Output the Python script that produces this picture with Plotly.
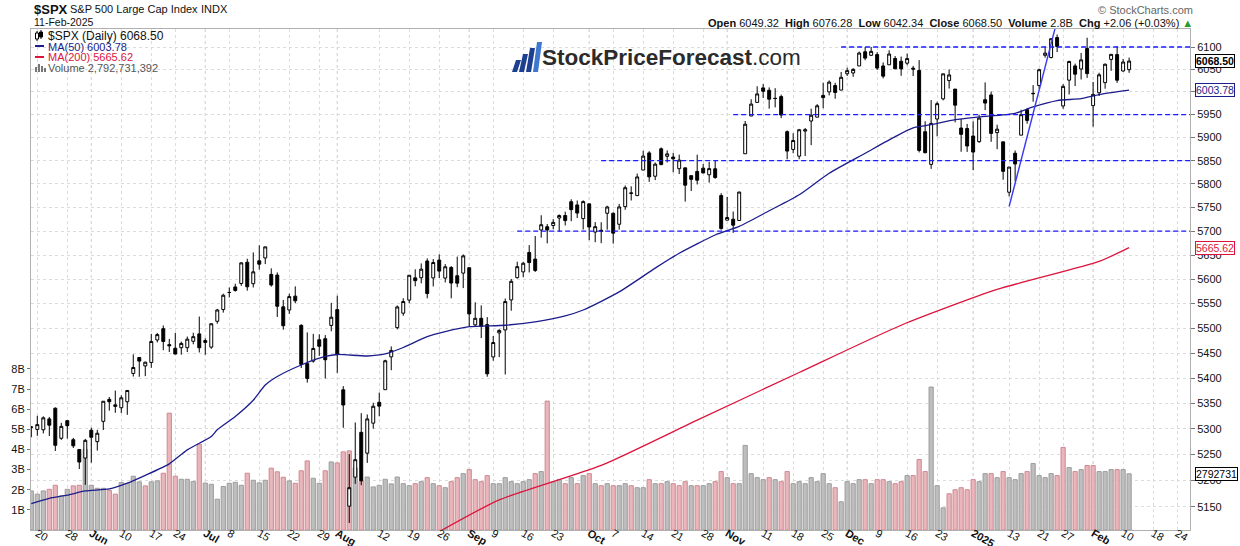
import numpy as np
import pandas as pd
import plotly.graph_objects as go

# ------------------------------------------------------------------ data
holidays = ["2024-05-27", "2024-06-19", "2024-07-04", "2024-09-02", "2024-11-28",
            "2024-12-25", "2025-01-01", "2025-01-09", "2025-01-20", "2025-02-17"]
axis_dates = [d.strftime("%Y-%m-%d") for d in pd.bdate_range("2024-05-17", "2025-02-27")
              if d.strftime("%Y-%m-%d") not in holidays]

opens = [5303.1, 5298.7, 5298.0, 5319.3, 5340.3, 5281.5, 5315.9, 5278.7, 5259.8, 5243.2,
         5297.2, 5275.0, 5314.5, 5357.8, 5343.8, 5341.2, 5353.0, 5409.1, 5441.0, 5424.1,
         5431.1, 5476.2, 5499.0, 5466.8, 5459.6, 5460.7, 5460.7, 5473.6, 5488.5, 5471.1,
         5461.8, 5514.0, 5537.9, 5572.8, 5584.2, 5591.3, 5635.2, 5590.8, 5638.2, 5644.1,
         5610.1, 5608.6, 5543.4, 5537.0, 5565.3, 5505.8, 5428.7, 5433.7, 5476.6, 5478.7,
         5505.6, 5537.8, 5376.6, 5151.1, 5206.4, 5293.1, 5252.6, 5311.0, 5351.9, 5376.9,
         5442.2, 5501.1, 5530.5, 5557.2, 5602.9, 5603.1, 5637.8, 5602.9, 5639.7, 5602.5,
         5624.5, 5607.3, 5612.7, 5623.9, 5506.7, 5520.1, 5507.3, 5442.1, 5490.5, 5496.4,
         5557.5, 5603.3, 5615.2, 5655.5, 5641.7, 5702.6, 5709.4, 5711.9, 5727.7, 5733.0,
         5762.2, 5755.4, 5726.5, 5757.7, 5698.2, 5702.0, 5737.8, 5737.8, 5714.6, 5751.8,
         5781.0, 5775.1, 5829.8, 5866.7, 5816.6, 5875.6, 5859.4, 5857.8, 5832.7, 5834.5,
         5817.8, 5826.8, 5833.9, 5819.7, 5832.6, 5775.3, 5723.2, 5725.2, 5722.4, 5864.9,
         5947.0, 5976.8, 6008.9, 6003.6, 5985.8, 5989.6, 5912.8, 5874.2, 5859.7, 5914.0,
         5936.0, 5944.4, 5992.3, 6000.0, 6014.1, 6004.0, 6040.1, 6042.0, 6057.6, 6089.3,
         6081.4, 6083.0, 6057.6, 6060.2, 6074.3, 6068.2, 6063.8, 6052.6, 6047.6, 5912.7,
         5842.0, 5940.3, 5984.7, 6025.0, 6006.2, 5920.7, 5919.7, 5903.3, 5891.1, 5982.8,
         5993.3, 5910.7, 5890.7, 5782.4, 5866.0, 5905.2, 5961.0, 5995.9, 6014.1, 6081.4,
         6076.3, 6121.4, 5969.0, 6026.0, 6057.7, 6050.8, 6096.8, 5969.7, 5998.1, 6020.5,
         6072.2, 6083.1, 6046.4, 6049.32]
highs = [5305.4, 5325.5, 5324.3, 5323.2, 5341.9, 5311.6, 5315.9, 5282.3, 5260.2, 5280.3,
         5302.1, 5297.9, 5354.2, 5362.4, 5375.1, 5365.8, 5375.9, 5447.3, 5441.9, 5432.4,
         5488.5, 5490.4, 5505.5, 5478.3, 5490.7, 5472.9, 5483.1, 5490.8, 5523.6, 5479.6,
         5509.7, 5539.3, 5570.3, 5583.1, 5590.8, 5635.4, 5642.5, 5655.6, 5670.4, 5667.3,
         5622.5, 5614.1, 5557.5, 5570.4, 5585.3, 5508.0, 5491.6, 5488.5, 5487.7, 5486.0,
         5551.5, 5566.2, 5383.9, 5250.9, 5312.3, 5330.6, 5328.0, 5351.1, 5371.2, 5436.5,
         5463.2, 5546.2, 5561.0, 5608.3, 5620.5, 5632.7, 5643.2, 5641.8, 5651.6, 5631.2,
         5627.0, 5646.9, 5651.4, 5623.9, 5552.7, 5546.3, 5522.5, 5484.2, 5497.9, 5560.4,
         5600.7, 5636.3, 5636.3, 5670.8, 5689.8, 5733.6, 5715.1, 5725.4, 5735.3, 5741.0,
         5767.4, 5764.8, 5765.1, 5757.7, 5719.1, 5718.8, 5753.7, 5739.4, 5757.6, 5796.8,
         5795.0, 5822.1, 5871.4, 5870.4, 5846.0, 5878.5, 5872.2, 5866.9, 5863.0, 5834.9,
         5817.8, 5862.8, 5842.9, 5847.2, 5850.9, 5780.4, 5772.5, 5741.4, 5783.4, 5936.1,
         5983.8, 6012.5, 6017.3, 6009.9, 6008.2, 5993.9, 5915.4, 5909.4, 5918.7, 5920.7,
         5963.1, 5972.9, 6020.4, 6025.4, 6020.2, 6044.2, 6053.6, 6052.7, 6089.8, 6100.0,
         6099.9, 6088.5, 6065.4, 6092.6, 6079.7, 6078.6, 6085.2, 6057.7, 6070.7, 5935.5,
         5982.1, 5978.3, 6040.1, 6049.8, 6006.2, 5940.8, 5929.7, 5935.1, 5949.3, 6021.0,
         6000.7, 5927.9, 5890.7, 5836.2, 5871.9, 5960.6, 5964.7, 6015.0, 6051.5, 6100.8,
         6118.7, 6128.2, 6017.2, 6069.1, 6062.8, 6086.6, 6120.9, 6022.1, 6042.5, 6062.9,
         6084.0, 6101.3, 6073.4, 6076.28]
lows = [5283.6, 5286.3, 5291.0, 5286.0, 5256.9, 5278.4, 5280.9, 5262.7, 5222.1, 5191.7,
        5234.3, 5257.6, 5297.6, 5335.4, 5331.3, 5331.0, 5327.3, 5403.0, 5402.5, 5403.8,
        5420.4, 5471.3, 5455.6, 5452.0, 5447.6, 5446.6, 5451.9, 5467.5, 5451.1, 5446.5,
        5458.4, 5509.0, 5531.6, 5562.5, 5574.6, 5586.4, 5576.5, 5583.1, 5619.9, 5631.4,
        5584.8, 5522.8, 5497.0, 5529.0, 5550.9, 5419.9, 5390.9, 5430.7, 5444.4, 5399.1,
        5493.8, 5410.4, 5302.0, 5119.3, 5193.6, 5191.0, 5233.9, 5300.2, 5324.4, 5376.9,
        5415.5, 5497.6, 5525.2, 5550.7, 5585.5, 5591.6, 5560.9, 5585.2, 5602.3, 5593.5,
        5560.9, 5583.7, 5581.8, 5504.1, 5503.7, 5480.0, 5402.6, 5434.5, 5441.7, 5407.0,
        5535.5, 5601.6, 5604.5, 5614.1, 5615.1, 5686.4, 5674.5, 5704.2, 5698.9, 5712.1,
        5721.0, 5727.7, 5703.5, 5681.3, 5676.9, 5674.9, 5703.2, 5674.0, 5703.2, 5745.0,
        5764.8, 5775.1, 5829.6, 5804.5, 5808.3, 5840.3, 5846.1, 5824.8, 5821.2, 5762.4,
        5784.9, 5799.0, 5823.1, 5802.9, 5811.3, 5703.3, 5723.2, 5696.5, 5722.1, 5864.9,
        5947.0, 5976.8, 5986.7, 5963.1, 5965.9, 5942.3, 5853.0, 5865.9, 5853.0, 5860.0,
        5883.5, 5944.4, 5963.9, 5992.3, 5984.9, 6004.0, 6035.3, 6033.4, 6057.6, 6070.4,
        6079.98, 6048.6, 6029.9, 6060.2, 6051.2, 6035.8, 6059.1, 6035.2, 5867.8, 5866.1,
        5832.3, 5902.6, 5981.4, 6007.4, 5933.0, 5869.2, 5868.9, 5829.5, 5888.6, 5960.0,
        5890.7, 5874.8, 5809.0, 5773.3, 5805.8, 5905.2, 5930.1, 5978.4, 6006.9, 6076.1,
        6074.7, 6088.7, 5962.9, 5994.3, 6013.0, 6027.5, 6030.9, 5923.9, 5990.9, 6007.1,
        6046.8, 6020.0, 6044.8, 6042.34]
closes = [5303.27, 5308.13, 5321.41, 5307.01, 5267.84, 5304.72, 5306.04, 5266.95, 5235.48, 5277.51,
          5283.40, 5291.34, 5354.03, 5352.96, 5346.99, 5360.79, 5375.32, 5421.03, 5433.74, 5431.60,
          5473.23, 5487.03, 5473.17, 5464.62, 5447.87, 5469.30, 5477.90, 5482.87, 5460.48, 5475.09,
          5509.01, 5537.02, 5567.19, 5572.85, 5576.98, 5633.91, 5584.54, 5615.35, 5631.22, 5667.20,
          5588.27, 5544.59, 5505.00, 5564.41, 5555.74, 5427.13, 5399.22, 5459.10, 5463.54, 5436.44,
          5522.30, 5446.68, 5346.56, 5186.33, 5240.03, 5199.50, 5319.31, 5344.16, 5344.39, 5434.43,
          5455.21, 5543.22, 5554.25, 5608.25, 5597.12, 5620.85, 5570.64, 5634.61, 5616.84, 5625.80,
          5592.18, 5591.96, 5648.40, 5528.93, 5520.07, 5503.41, 5408.42, 5471.05, 5495.52, 5554.13,
          5595.76, 5626.02, 5633.09, 5634.58, 5618.26, 5713.64, 5702.55, 5718.57, 5732.93, 5722.26,
          5745.37, 5738.17, 5762.48, 5708.75, 5709.54, 5699.94, 5751.07, 5695.94, 5751.13, 5792.04,
          5780.05, 5815.03, 5859.85, 5815.26, 5842.47, 5841.47, 5864.67, 5853.98, 5851.20, 5797.42,
          5809.86, 5808.12, 5823.52, 5832.92, 5813.67, 5705.45, 5728.80, 5712.69, 5782.76, 5929.04,
          5973.10, 5995.54, 6001.35, 5983.99, 5985.38, 5949.17, 5870.62, 5893.62, 5916.98, 5917.11,
          5948.71, 5969.34, 5987.37, 6021.63, 5998.74, 6032.38, 6047.15, 6049.88, 6086.49, 6075.11,
          6090.27, 6052.85, 6034.91, 6084.19, 6051.25, 6051.09, 6074.08, 6050.61, 5872.16, 5867.08,
          5930.85, 5974.07, 6040.04, 6037.59, 5970.84, 5906.94, 5881.63, 5868.55, 5942.47, 5975.38,
          5909.03, 5918.25, 5827.04, 5836.22, 5842.91, 5949.91, 5937.34, 5996.66, 6049.24, 6086.37,
          6118.71, 6101.24, 6012.28, 6067.70, 6039.31, 6071.17, 6040.53, 5994.57, 6037.88, 6061.48,
          6083.57, 6025.99, 6066.44, 6068.50]
volumes_b = [1.94, 1.78, 1.94, 2.02, 2.22, 1.69, 2.02, 2.19, 2.22, 4.01,
             2.22, 2.07, 2.07, 1.97, 1.78, 2.36, 2.31, 2.67, 2.39, 2.19,
             2.39, 2.44, 2.82, 5.80, 2.67, 2.52, 2.52, 2.41, 4.26, 2.33,
             2.27, 1.53, 2.16, 2.32, 2.37, 2.22, 2.82, 2.47, 2.34, 2.47,
             3.07, 2.89, 2.62, 2.44, 2.32, 2.94, 3.43, 2.57, 2.32, 2.94,
             3.38, 3.33, 3.88, 3.93, 3.09, 2.44, 2.63, 2.14, 2.22, 2.52,
             2.29, 2.63, 2.30, 2.20, 2.30, 2.40, 2.60, 2.30, 2.20, 2.10,
             2.40, 2.60, 2.80, 3.00, 2.50, 2.40, 2.70, 2.30, 2.30, 2.60,
             2.40, 2.30, 2.40, 2.50, 2.80, 2.90, 6.40, 2.40, 2.50, 2.30,
             2.60, 2.30, 2.70, 2.80, 2.30, 2.20, 2.30, 2.20, 2.20, 2.30,
             2.20, 2.10, 2.10, 2.50, 2.30, 2.30, 2.40, 2.30, 2.20, 2.40,
             2.20, 2.20, 2.20, 2.30, 2.40, 2.90, 2.60, 2.30, 2.30, 4.20,
             2.80, 2.60, 2.50, 2.60, 2.50, 2.40, 2.90, 2.30, 2.40, 2.30,
             2.60, 2.40, 2.80, 2.30, 2.10, 1.40, 2.40, 2.30, 2.50, 2.50,
             2.30, 2.50, 2.50, 2.40, 2.30, 2.40, 2.70, 2.70, 3.50, 2.90,
             7.10, 2.20, 1.10, 1.80, 2.00, 2.10, 2.00, 2.50, 2.40, 2.80,
             2.80, 2.60, 2.90, 2.60, 2.50, 2.80, 2.90, 3.30, 2.70, 2.60,
             2.80, 2.70, 4.10, 3.10, 2.90, 3.00, 3.20, 3.20, 2.90, 2.90,
             3.00, 3.00, 3.00, 2.79]

ma50_dates = ["2024-05-17", "2024-05-22", "2024-05-28", "2024-05-31", "2024-06-06", "2024-06-11",
              "2024-06-14", "2024-06-21", "2024-06-26", "2024-07-02", "2024-07-03", "2024-07-09",
              "2024-07-12", "2024-07-16", "2024-07-18", "2024-07-24", "2024-07-30", "2024-08-01",
              "2024-08-08", "2024-08-13", "2024-08-16", "2024-08-22", "2024-08-27", "2024-09-03",
              "2024-09-11", "2024-09-18", "2024-09-25", "2024-09-30", "2024-10-08", "2024-10-16",
              "2024-10-22", "2024-10-30", "2024-11-05", "2024-11-12", "2024-11-19", "2024-11-26",
              "2024-12-05", "2024-12-12", "2024-12-17", "2024-12-20", "2024-12-27", "2025-01-03",
              "2025-01-14", "2025-01-17", "2025-01-24", "2025-01-30", "2025-02-04", "2025-02-11"]
ma50_vals = [5156, 5166, 5172, 5180, 5184, 5195, 5210, 5232, 5259, 5285, 5298, 5324,
             5356, 5386, 5403, 5426, 5443, 5447, 5444, 5448, 5461, 5483, 5493, 5503,
             5506, 5513, 5525, 5537, 5574, 5623, 5654, 5692, 5710, 5743, 5777, 5823,
             5866, 5902, 5921, 5928, 5939, 5945, 5953, 5967, 5981, 5985, 5994, 6003.78]

ma200_dates = ["2024-08-26", "2024-09-10", "2024-10-03", "2024-10-25", "2024-11-19",
               "2024-12-13", "2025-01-08", "2025-02-04", "2025-02-11"]
ma200_vals = [5103, 5163, 5229, 5317, 5411, 5506, 5579, 5637, 5665.62]

support_levels = [6100, 5950, 5850, 5700]
support_starts = ["2024-11-29", "2024-11-04", "2024-10-03", "2024-09-13"]
trend_dates = ["2025-01-13", "2025-01-24"]
trend_vals = [5752, 6160]

tick_dates = ["2024-05-20", "2024-05-28", "2024-06-03", "2024-06-10", "2024-06-17", "2024-06-24",
              "2024-07-01", "2024-07-08", "2024-07-15", "2024-07-22", "2024-07-29", "2024-08-01",
              "2024-08-12", "2024-08-19", "2024-08-26", "2024-09-03", "2024-09-09", "2024-09-16",
              "2024-09-23", "2024-10-01", "2024-10-07", "2024-10-14", "2024-10-21", "2024-10-28",
              "2024-11-01", "2024-11-11", "2024-11-18", "2024-11-25", "2024-12-02", "2024-12-09",
              "2024-12-16", "2024-12-23", "2025-01-02", "2025-01-13", "2025-01-21", "2025-01-27",
              "2025-02-03", "2025-02-10", "2025-02-18", "2025-02-24"]
tick_text = ["20", "28", "Jun", "10", "17", "24", "Jul", "8", "15", "22", "29", "Aug", "12", "19",
             "26", "Sep", "9", "16", "23", "Oct", "7", "14", "21", "28", "Nov", "11", "18", "25",
             "Dec", "9", "16", "23", "2025", "13", "21", "27", "Feb", "10", "18", "24"]
price_ticks = list(range(5150, 6101, 50))
vol_ticks = [1, 2, 3, 4, 5, 6, 7, 8]

# ------------------------------------------------------------------ helpers
N = len(closes)
assert N == len(opens) == len(highs) == len(lows) == len(volumes_b) == 184
pos = {d: i for i, d in enumerate(axis_dates)}
xs = list(range(N))

FONT = "Liberation Sans, Arial, sans-serif"
L, R, T, B = 31, 1190, 29, 530          # plot area in pixels
W, H = 1240, 546


def px(x):
    return (x - L) / (R - L)


def py(y):
    return (B - y) / (B - T)


fig = go.Figure()

# volume (base axis, drawn underneath)
vol_fill, vol_line = [], []
for i in range(N):
    down = i > 0 and closes[i] < closes[i - 1]
    vol_fill.append("#e8b6bb" if down else "#bebebe")
    vol_line.append("#d08890" if down else "#9c9c9c")
fig.add_trace(go.Bar(x=xs, y=volumes_b, yaxis="y", width=0.7,
                     marker=dict(color=vol_fill, line=dict(color=vol_line, width=1)),
                     hoverinfo="skip"))

# moving averages
fig.add_trace(go.Scatter(x=[pos[d] for d in ma200_dates], y=ma200_vals, yaxis="y2", mode="lines",
                         line=dict(color="#dc143c", width=1.3, shape="spline", smoothing=0.6),
                         hoverinfo="skip"))
fig.add_trace(go.Scatter(x=[pos[d] for d in ma50_dates], y=ma50_vals, yaxis="y2", mode="lines",
                         line=dict(color="#1c1c8c", width=1.3, shape="spline", smoothing=0.6),
                         hoverinfo="skip"))

# support / resistance dashed lines
for lvl, st in zip(support_levels, support_starts):
    fig.add_trace(go.Scatter(x=[pos[st], 194], y=[lvl, lvl], yaxis="y2", mode="lines",
                             line=dict(color="#1a1aff", width=1.3, dash="5px,3px"),
                             hoverinfo="skip"))

# trend line
fig.add_trace(go.Scatter(x=[pos[d] for d in trend_dates], y=trend_vals, yaxis="y2", mode="lines",
                         line=dict(color="#3a3af0", width=1.4), hoverinfo="skip"))

# candles
fig.add_trace(go.Candlestick(x=xs, open=opens, high=highs, low=lows, close=closes, yaxis="y2",
                             increasing=dict(line=dict(color="black", width=1), fillcolor="white"),
                             decreasing=dict(line=dict(color="black", width=1), fillcolor="black"),
                             whiskerwidth=0, hoverinfo="skip"))

# ------------------------------------------------------------------ layout
tt = [f"<b>{t}</b>" if not t.isdigit() or len(t) == 4 else t for t in tick_text]
fig.update_layout(
    width=W, height=H, margin=dict(l=L, r=W - R, t=T, b=H - B, autoexpand=False),
    paper_bgcolor="white", plot_bgcolor="white", showlegend=False,
    font=dict(family=FONT, size=11, color="#111"),
    xaxis=dict(range=[-0.05, 193.15], tickmode="array", tickvals=[pos[d] for d in tick_dates],
               ticktext=tt, showgrid=True, gridcolor="#dcdcdc", griddash="3px,3px",
               showline=True, linecolor="#b0b0b0", mirror=True, ticks="", zeroline=False,
               automargin=False, rangeslider=dict(visible=False), ticklabelstandoff=-8,
               tickfont=dict(size=11, color="#111")),
    yaxis=dict(range=[0, (B - T) / 20.14], side="left", tickmode="array", tickvals=vol_ticks,
               ticktext=[f"{v}B" for v in vol_ticks], showgrid=False, showline=True,
               linecolor="#b0b0b0", ticks="outside", ticklen=3, tickcolor="#777",
               zeroline=False, automargin=False, tickfont=dict(size=11, color="#111")),
    yaxis2=dict(type="log", range=[np.log10(5106.1), np.log10(6140.6)], overlaying="y",
                side="right", tickmode="array", tickvals=price_ticks,
                ticktext=[str(v) for v in price_ticks], showgrid=True, gridcolor="#dcdcdc",
                griddash="3px,3px", showline=True, linecolor="#b0b0b0", ticks="outside",
                ticklen=4, tickcolor="#777", zeroline=False, automargin=False,
                tickfont=dict(size=11, color="#111")),
)

# month separators (slightly darker grid)
month_ticks = [d for d, t in zip(tick_dates, tick_text) if not t.isdigit() or len(t) == 4]
shapes = []
for d in month_ticks:
    shapes.append(dict(type="line", xref="x", yref="paper", x0=pos[d], x1=pos[d], y0=0, y1=1,
                       line=dict(color="#c4c4c4", width=1, dash="3px,3px"), layer="below"))

# legend icons
shapes += [
    dict(type="line", xref="paper", yref="paper", x0=px(35), x1=px(44), y0=py(46), y1=py(46),
         line=dict(color="#1c1c8c", width=2)),
    dict(type="line", xref="paper", yref="paper", x0=px(35), x1=px(44), y0=py(57), y1=py(57),
         line=dict(color="#dc143c", width=2)),
]
for bx, bh in [(35, 5), (38, 8), (41, 6), (44, 4)]:
    shapes.append(dict(type="rect", xref="paper", yref="paper", x0=px(bx), x1=px(bx + 2),
                       y0=py(72), y1=py(72 - bh), line=dict(width=0), fillcolor="#777"))
for cx, y0, y1, fill in [(37, 33, 39, "white"), (41, 32, 37, "black")]:
    shapes.append(dict(type="line", xref="paper", yref="paper", x0=px(cx), x1=px(cx),
                       y0=py(y0 - 2), y1=py(y1 + 2), line=dict(color="black", width=1)))
    shapes.append(dict(type="rect", xref="paper", yref="paper", x0=px(cx - 1.5), x1=px(cx + 1.5),
                       y0=py(y1), y1=py(y0), line=dict(color="black", width=1), fillcolor=fill))

# logo icon
for x0, h, col in [(512, 12, "#1d3f8f"), (519, 18, "#1d3f8f"), (526, 24, "#1d3f8f"), (533, 30, "#3f78d0")]:
    shapes.append(dict(type="path", xref="paper", yref="paper",
                       path=(f"M {px(x0)} {py(72)} L {px(x0 + 5)} {py(72)} "
                             f"L {px(x0 + 9)} {py(72 - h)} L {px(x0 + 4)} {py(72 - h)} Z"),
                       line=dict(width=0), fillcolor=col))
fig.update_layout(shapes=shapes)

ann = []


def text(x, y, s, size=11, color="#111", anchor="left", bold=False, family=FONT):
    ann.append(dict(xref="paper", yref="paper", x=px(x), y=py(y), text=f"<b>{s}</b>" if bold else s,
                    showarrow=False, xanchor=anchor, yanchor="middle",
                    font=dict(size=size, color=color, family=family)))


text(32, 9, "$SPX", size=13, bold=True)
text(68, 9, "S&amp;P 500 Large Cap Index", size=11)
text(199, 9, "INDX", size=11)
text(32, 22, "11-Feb-2025", size=10.5)
text(1195, 10, "© StockCharts.com", size=11, color="#666", anchor="right")
text(1195, 23, "<b>Open</b> 6049.32  <b>High</b> 6076.28  <b>Low</b> 6042.34  <b>Close</b> 6068.50  "
     "<b>Volume</b> 2.8B  <b>Chg</b> +2.06 (+0.03%) <span style='color:#2a9a2a'>▲</span>",
     size=11, anchor="right")
text(46, 36, "$SPX (Daily) 6068.50", size=12)
text(46, 46.5, "MA(50) 6003.78", size=11, color="#1c1c8c")
text(46, 57, "MA(200) 5665.62", size=11, color="#dc143c")
text(46, 67.5, "Volume 2,792,731,392", size=11, color="#555")
text(540, 58, "<b>StockPriceForecast</b>.com", size=22.5, color="#2b2b2b")

# right edge value boxes
box_vals = [(closes[-1], "y2", "black", True), (ma50_vals[-1], "y2", "#1c1c8c", False),
            (ma200_vals[-1], "y2", "#dc143c", False), (volumes_b[-1], "y", "black", False)]
labels = [f"{closes[-1]:.2f}", f"{ma50_vals[-1]:.2f}", f"{ma200_vals[-1]:.2f}", "2792731"]
for (val, yref, col, bold), lab in zip(box_vals, labels):
    yv = np.log10(val) if yref == "y2" else val
    ann.append(dict(xref="paper", yref=yref, x=1, y=yv, xanchor="left", yanchor="middle",
                    xshift=5, text=(f"<b>{lab}</b>" if bold else lab), showarrow=False,
                    bgcolor="white", bordercolor=col, borderwidth=1, borderpad=0,
                    font=dict(size=10.5, color=col, family=FONT)))
fig.update_layout(annotations=ann)

fig.write_html("out.html", config={"displayModeBar": False, "staticPlot": True},
               post_script="document.body.style.margin='0px';document.body.style.overflow='hidden';")
